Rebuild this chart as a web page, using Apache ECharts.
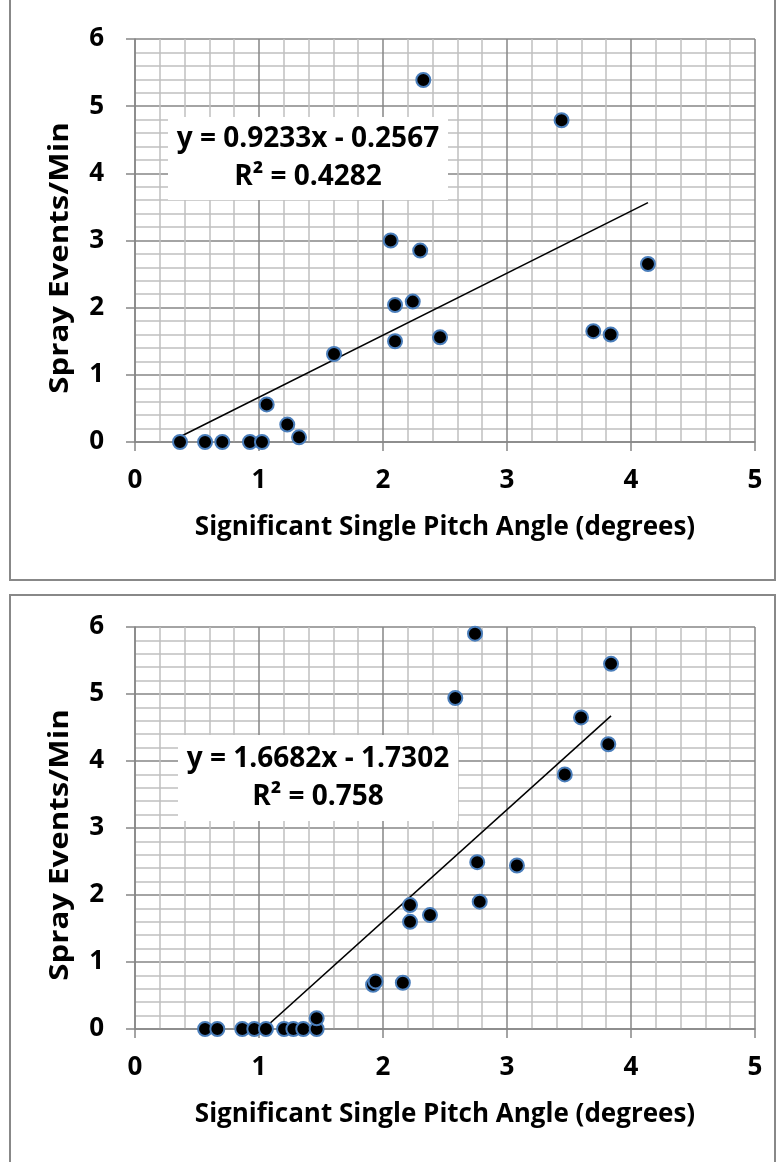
<!DOCTYPE html>
<html>
<head>
<meta charset="utf-8">
<script src="https://cdn.jsdelivr.net/npm/echarts@6/dist/echarts.min.js"></script>
<style>
  html, body { margin: 0; padding: 0; background: #fff; }
  #chart { width: 777px; height: 1162px; }
</style>
</head>
<body>
<div id="chart"></div>
<script>
// top panel
const topX = [0.363, 0.565, 0.704, 0.927, 1.024, 1.062, 1.228, 1.323, 1.605, 2.062, 2.30, 2.097, 2.24, 2.097, 2.46, 2.325, 3.44, 4.137, 3.696, 3.836];
const topY = [0, 0, 0, 0, 0, 0.56, 0.26, 0.07, 1.31, 3.0, 2.85, 2.04, 2.09, 1.50, 1.56, 5.39, 4.79, 2.65, 1.65, 1.60];
const topSlope = 0.9233;
const topIntercept = -0.2567;
const topEquation = ['y = 0.9233x - 0.2567', 'R² = 0.4282'];

// bottom panel
const botX = [0.565, 0.664, 0.865, 0.962, 1.056, 1.202, 1.277, 1.357, 1.465, 1.465, 1.92, 1.94, 2.16, 2.218, 2.218, 2.379, 2.76, 2.78, 3.08, 2.742, 3.839, 2.583, 3.597, 3.817, 3.466];
const botY = [0, 0, 0, 0, 0, 0, 0, 0, 0, 0.16, 0.66, 0.71, 0.69, 1.85, 1.60, 1.70, 2.49, 1.90, 2.44, 5.90, 5.45, 4.94, 4.65, 4.25, 3.80];
const botSlope = 1.6682;
const botIntercept = -1.7302;
const botEquation = ['y = 1.6682x - 1.7302', 'R² = 0.758'];

const xRange = [0, 5];
const yRange = [0, 6];
const xTitle = 'Significant Single Pitch Angle (degrees)';
const yTitle = 'Spray Events/Min';

const FONT = 'Open Sans';
const major = '#868686';
const minor = '#c0c0c0';
const txt = { fontFamily: FONT, fontWeight: 'bold', color: '#000' };

function pairs (xs, ys) {
  return xs.map((x, i) => [x, ys[i]]);
}

function trend (xs, slope, intercept) {
  const lo = Math.min(...xs), hi = Math.max(...xs);
  return [[lo, slope * lo + intercept], [hi, slope * hi + intercept]];
}

function xAxis (gridIndex) {
  return {
    type: 'value', gridIndex, min: xRange[0], max: xRange[1], interval: 1,
    name: xTitle, nameLocation: 'middle', nameGap: 73,
    nameTextStyle: { ...txt, fontSize: 26 },
    axisLine: { show: true, onZero: false, lineStyle: { color: major, width: 1.5 } },
    axisTick: { show: true, length: 9, lineStyle: { color: major, width: 1.5 } },
    axisLabel: { ...txt, margin: 26, fontSize: 26 },
    splitLine: { show: true, lineStyle: { color: major, width: 1.5 } },
    minorTick: { show: false, splitNumber: 5 },
    minorSplitLine: { show: true, lineStyle: { color: minor, width: 1.5 } }
  };
}

function yAxis (gridIndex) {
  return {
    type: 'value', gridIndex, min: yRange[0], max: yRange[1], interval: 1,
    axisLine: { show: true, onZero: false, lineStyle: { color: major, width: 1.5 } },
    axisTick: { show: true, length: 9, lineStyle: { color: major, width: 1.5 } },
    axisLabel: { ...txt, margin: 31, fontSize: 26 },
    splitLine: { show: true, lineStyle: { color: major, width: 1.5 } },
    minorTick: { show: false, splitNumber: 5 },
    minorSplitLine: { show: true, lineStyle: { color: minor, width: 1.5 } }
  };
}

function dots (i, xs, ys) {
  return {
    type: 'scatter', xAxisIndex: i, yAxisIndex: i, z: 5,
    data: pairs(xs, ys), symbolSize: 14,
    itemStyle: { color: '#000', borderColor: '#4a7ebb', borderWidth: 2, opacity: 1 }
  };
}

function fit (i, xs, slope, intercept) {
  return {
    type: 'line', xAxisIndex: i, yAxisIndex: i, z: 3, clip: true,
    data: trend(xs, slope, intercept), symbol: 'none',
    lineStyle: { color: '#000', width: 1.5 }
  };
}

function eqBox (x, y, w, h, lines) {
  return [
    { type: 'rect', z: 100, shape: { x, y, width: w, height: h }, style: { fill: '#fff' } },
    { type: 'text', z: 101, x: x + w / 2, y: y + h / 2,
      style: { text: lines.join('\n'), align: 'center', verticalAlign: 'middle', lineHeight: 38,
               fontFamily: FONT, fontWeight: 'bold', fontSize: 28, fill: '#000' } }
  ];
}

// y titles are a little taller in the original, stretched along the text
function yName (cx, cy) {
  return {
    type: 'text', z: 100, x: cx, y: cy, rotation: Math.PI / 2, scaleX: 1.2,
    style: { text: yTitle, align: 'center', verticalAlign: 'middle',
             fontFamily: FONT, fontWeight: 'bold', fontSize: 26, fill: '#000' }
  };
}

const chart = echarts.init(document.getElementById('chart'));
chart.setOption({
  animation: false,
  grid: [
    { left: 135, top: 39, width: 620, height: 403, outerBoundsMode: 'none' },
    { left: 135, top: 627, width: 620, height: 402, outerBoundsMode: 'none' }
  ],
  xAxis: [xAxis(0), xAxis(1)],
  yAxis: [yAxis(0), yAxis(1)],
  series: [
    fit(0, topX, topSlope, topIntercept),
    dots(0, topX, topY),
    fit(1, botX, botSlope, botIntercept),
    dots(1, botX, botY)
  ],
  graphic: [
    { type: 'rect', z: 100, shape: { x: 10, y: -2, width: 765, height: 582 }, style: { fill: 'none', stroke: '#888', lineWidth: 2 } },
    { type: 'rect', z: 100, shape: { x: 10, y: 595, width: 765, height: 600 }, style: { fill: 'none', stroke: '#888', lineWidth: 2 } },
    yName(61, 258),
    yName(61, 845),
    ...eqBox(168, 117, 280, 83, topEquation),
    ...eqBox(178, 735, 280, 86, botEquation)
  ]
});
</script>
</body>
</html>
